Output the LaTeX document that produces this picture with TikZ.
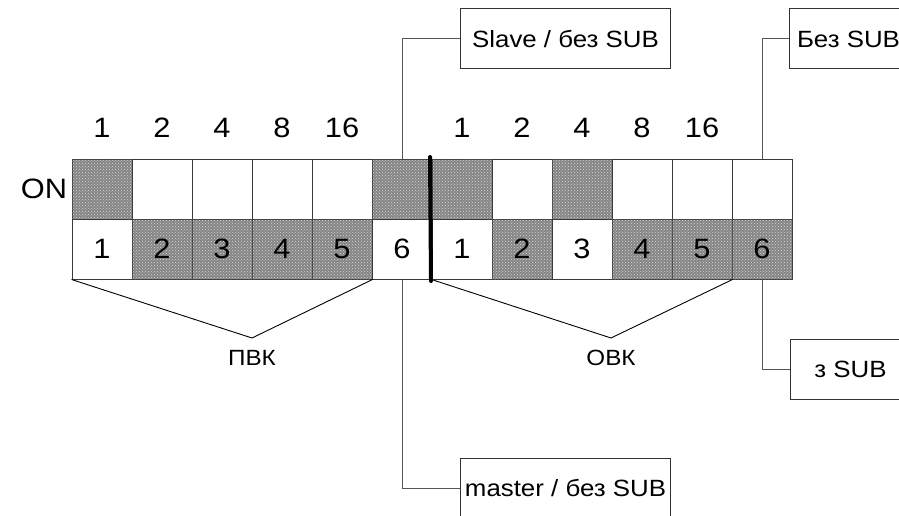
\documentclass[tikz,border=0pt]{standalone}
\usepackage{fontspec}
\setmainfont[FakeStretch=1.1]{Liberation Sans}
\usetikzlibrary{patterns}
\definecolor{shade}{HTML}{858585}
\definecolor{edge}{HTML}{3A3A3A}
\definecolor{wire}{HTML}{555555}
\begin{document}
\begin{tikzpicture}[x=1pt,y=-1pt,
  cell/.style={draw=edge, line width=1pt, minimum width=60pt, minimum height=60pt,
    inner sep=0pt, font=\fontsize{28}{28}\selectfont},
  oncell/.style={cell, fill=shade,
    postaction={pattern=crosshatch dots, pattern color=black!15}},
  weight/.style={font=\fontsize{28}{28}\selectfont, inner sep=0pt},
  group/.style={font=\fontsize{22}{22}\selectfont, inner sep=0pt},
  tag/.style={draw=black!80, line width=1pt, minimum height=60pt, inner sep=0pt,
    font=\fontsize{23.5}{23.5}\selectfont},
  conn/.style={draw=wire, line width=1pt},
  vline/.style={draw=black, line width=0.9pt}]
\useasboundingbox (0,0) rectangle (899,516);
\clip (0,0) rectangle (899,516);

% switch positions: upper row (ON state) and lower row (switch numbers)
\foreach \i/\f in {1/1,2/0,3/0,4/0,5/0,6/1,7/1,8/0,9/1,10/0,11/0,12/0}{
  \ifnum\f=1
    \node[oncell] (t\i) at ({42+60*\i},189) {};
  \else
    \node[cell] (t\i) at ({42+60*\i},189) {};
  \fi
}
\foreach \i/\n/\f in {1/1/0,2/2/1,3/3/1,4/4/1,5/5/1,6/6/0,7/1/0,8/2/1,9/3/0,10/4/1,11/5/1,12/6/1}{
  \ifnum\f=1
    \node[oncell] (b\i) at ({42+60*\i},249) {\n};
  \else
    \node[cell] (b\i) at ({42+60*\i},249) {\n};
  \fi
}

% weights above the address switches
\foreach \i/\w in {1/1,2/2,3/4,4/8,5/16,7/1,8/2,9/4,10/8,11/16}{
  \node[weight] (w\i) at ({42+60*\i},128) {\w};
}
\node[weight] (on) at (44,189) {ON};

% divider between the two groups
\draw[line width=4pt, line cap=round] (430,157) -- (431,281);

% group brackets
\coordinate (apexL) at (252,338);
\coordinate (apexR) at (611,338);
\draw[vline] (b1.south west) -- (apexL) -- (b5.south east);
\draw[vline] (b7.south west) -- (apexR) -- (b11.south east);
\node[group] (pvk) at (252,358) {ПВК};
\node[group] (ovk) at (611,358) {ОВК};

% mode boxes
\node[tag, minimum width=210pt] (slave) at (565.5,39) {Slave / без SUB};
\node[tag, minimum width=210pt] (master) at (565.5,488) {master / без SUB};
\node[tag, minimum width=118pt, anchor=west] (bez) at (789,39) {Без SUB};
\node[tag, minimum width=120pt, anchor=west] (zsub) at (790,369) {з SUB};

% leaders
\draw[conn] (t6.north) |- (slave.west);
\draw[conn] (b6.south) |- (master.west);
\draw[conn] (t12.north) |- (bez.west);
\draw[conn] (b12.south) |- (zsub.west);
\end{tikzpicture}
\end{document}
